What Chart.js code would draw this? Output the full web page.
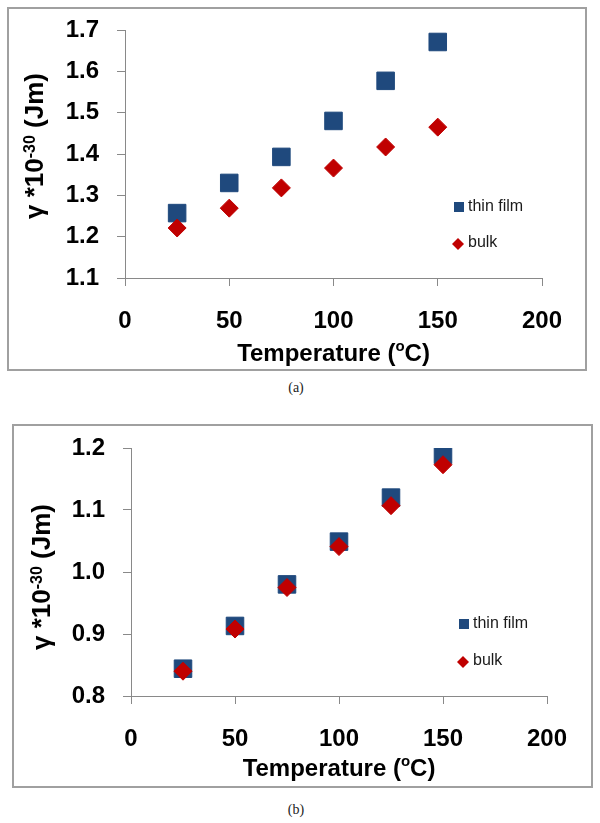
<!DOCTYPE html>
<html>
<head>
<meta charset="utf-8">
<script src="https://cdn.jsdelivr.net/npm/chart.js@4.4.1/dist/chart.umd.min.js"></script>
<style>
body { margin: 0; background: #fff; width: 600px; height: 823px; position: relative; overflow: hidden; }
.box { position: absolute; box-sizing: border-box; border: 2px solid #a0a0a0; background: #fff; }
.box canvas { display: block; }
.cap { position: absolute; left: 0; width: 592px; text-align: center; font: 14px 'Liberation Serif', 'Times New Roman', serif; color: #222; line-height: 16px; }
</style>
</head>
<body>
<div class="box" style="left:7px;top:7px;width:580px;height:364px"><canvas id="chartA" width="576" height="360"></canvas></div>
<div class="cap" style="top:380px">(a)</div>
<div class="box" style="left:12px;top:424px;width:581px;height:364px"><canvas id="chartB" width="577" height="360"></canvas></div>
<div class="cap" style="top:802px">(b)</div>
<script>
// values
const temps = [25, 50, 75, 100, 125, 150];
const filmA = [1.257, 1.330, 1.393, 1.480, 1.577, 1.671];
const bulkA = [1.221, 1.269, 1.318, 1.366, 1.417, 1.465];
const filmB = [0.844, 0.913, 0.980, 1.049, 1.120, 1.189];
const bulkB = [0.840, 0.908, 0.975, 1.041, 1.107, 1.173];
const xTicks = [0, 50, 100, 150, 200];
const yTicksA = [1.1, 1.2, 1.3, 1.4, 1.5, 1.6, 1.7];
const yTicksB = [0.8, 0.9, 1.0, 1.1, 1.2];
const seriesNames = ['thin film', 'bulk'];

const FILM = '#1f497d', BULK = '#c00000', AXIS = '#898989';
const FONT = "'Liberation Sans', Arial, sans-serif";

function pts(ys) {
    return temps.map((t, i) => ({ x: t, y: ys[i] }));
}

// text with superscript parts: [text, size, dy]
function drawRich(ctx, parts, cx, cy) {
    let w = 0;
    parts.forEach(p => { ctx.font = `bold ${p[1]}px ${FONT}`; w += ctx.measureText(p[0]).width; });
    let x = cx - w / 2;
    ctx.textAlign = 'left';
    parts.forEach(p => {
        ctx.font = `bold ${p[1]}px ${FONT}`;
        ctx.fillText(p[0], x, cy + p[2]);
        x += ctx.measureText(p[0]).width;
    });
}

const titlesPlugin = {
    id: 'titles',
    afterDraw(chart, args, opts) {
        const { ctx, chartArea: a } = chart;
        ctx.save();
        ctx.fillStyle = '#000';
        ctx.textBaseline = 'middle';
        drawRich(ctx, [['Temperature (', 24, 0], ['o', 15, -7], ['C)', 24, 0]], (a.left + a.right) / 2, opts.xTitleY);

        // legend
        const lx = a.right - 83;
        ctx.fillStyle = FILM;
        ctx.fillRect(lx - 5, opts.legendY[0] - 5, 10, 10);
        ctx.fillStyle = BULK;
        ctx.beginPath();
        ctx.moveTo(lx - 1, opts.legendY[1] - 6);
        ctx.lineTo(lx + 5, opts.legendY[1]);
        ctx.lineTo(lx - 1, opts.legendY[1] + 6);
        ctx.lineTo(lx - 7, opts.legendY[1]);
        ctx.closePath();
        ctx.fill();
        ctx.fillStyle = '#1a1a1a';
        ctx.font = `16px ${FONT}`;
        ctx.textAlign = 'left';
        ctx.fillText(seriesNames[0], lx + 9, opts.legendY[0]);
        ctx.fillText(seriesNames[1], lx + 9, opts.legendY[1] - 1);

        ctx.fillStyle = '#000';
        ctx.translate(opts.yTitleX, (a.top + a.bottom) / 2 + opts.yShift);
        ctx.rotate(-Math.PI / 2);
        drawRich(ctx, [['γ *10', 26, 0], ['-30', 16, -5], [' (Jm)', 26, 0]], 0, 0);
        ctx.restore();
    }
};

function makeChart(id, film, bulk, yTicks, cfg) {
    const tickFont = { family: FONT, size: 24, weight: 'bold' };
    return new Chart(document.getElementById(id), {
        type: 'scatter',
        data: {
            datasets: [
                { label: seriesNames[0], data: pts(film), pointStyle: 'rect', pointRadius: 12.4, backgroundColor: FILM, borderColor: FILM, borderWidth: 1, order: 2 },
                { label: seriesNames[1], data: pts(bulk), pointStyle: 'rectRot', pointRadius: 9, backgroundColor: BULK, borderColor: BULK, borderWidth: 1, order: 1 },
            ],
        },
        options: {
            responsive: false, animation: false,
            layout: { padding: cfg.pad },
            plugins: { legend: { display: false }, tooltip: { enabled: false }, titles: cfg.titles },
            scales: {
                x: {
                    type: 'linear', min: xTicks[0], max: xTicks[xTicks.length - 1],
                    afterBuildTicks: s => { s.ticks = xTicks.map(v => ({ value: v })); },
                    afterFit: s => { s.height = cfg.xH; },
                    grid: { drawOnChartArea: false, drawTicks: true, tickLength: 8, color: AXIS },
                    border: { color: AXIS },
                    ticks: { padding: 21, color: '#000', font: tickFont },
                },
                y: {
                    type: 'linear', min: yTicks[0], max: yTicks[yTicks.length - 1],
                    afterBuildTicks: s => { s.ticks = yTicks.map(v => ({ value: v })); },
                    afterFit: s => { s.width = cfg.yW; s.paddingTop = 0; s.paddingBottom = 0; },
                    grid: { drawOnChartArea: false, drawTicks: true, tickLength: 8, color: AXIS },
                    border: { color: AXIS },
                    ticks: { padding: 18, color: '#000', font: tickFont, callback: v => Number(v).toFixed(1) },
                },
            },
        },
        plugins: [titlesPlugin],
    });
}

makeChart('chartA', filmA, bulkA, yTicksA, {
    pad: { left: 0, right: 43, top: 21, bottom: 0 }, xH: 91, yW: 116,
    titles: { xTitleY: 345, yTitleX: 27, yShift: -8, legendY: [198, 235] },
});
makeChart('chartB', filmB, bulkB, yTicksB, {
    pad: { left: 0, right: 44, top: 22, bottom: 0 }, xH: 90, yW: 117,
    titles: { xTitleY: 343, yTitleX: 29, yShift: 5, legendY: [198, 236] },
});
</script>
</body>
</html>
